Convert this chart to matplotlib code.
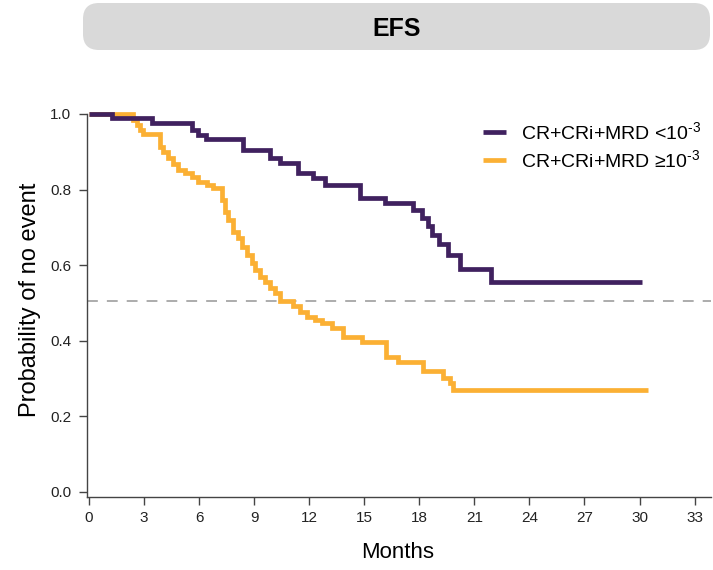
import matplotlib
matplotlib.use("Agg")
import matplotlib.pyplot as plt
from matplotlib.patches import FancyBboxPatch

plt.rcParams["font.family"] = ["Liberation Sans", "DejaVu Sans"]
plt.rcParams["mathtext.fontset"] = "custom"
plt.rcParams["mathtext.rm"] = "Liberation Sans"
plt.rcParams["mathtext.default"] = "regular"

# Kaplan-Meier steps (months, probability of no event)
low_mrd_times = [0, 1.24, 3.42, 5.6, 5.96, 6.38, 8.41, 9.86, 10.41, 11.39, 12.21,
                 12.86, 14.77, 16.13, 17.64, 18.13, 18.49, 18.68, 19.09, 19.58,
                 20.22, 21.89, 30.12]
low_mrd_surv = [1.0, 0.99, 0.975, 0.958, 0.944, 0.933, 0.905, 0.884, 0.869, 0.843,
                0.830, 0.812, 0.777, 0.764, 0.746, 0.725, 0.704, 0.680, 0.656,
                0.627, 0.591, 0.556, 0.556]

high_mrd_times = [0, 2.41, 2.6, 2.78, 2.96, 3.87, 4.05, 4.32, 4.59, 4.87, 5.23, 5.6,
                  5.96, 6.41, 6.78, 7.23, 7.41, 7.59, 7.86, 8.14, 8.32, 8.59, 8.86,
                  9.05, 9.32, 9.59, 9.86, 10.14, 10.41, 11.13, 11.5, 11.86, 12.32,
                  12.68, 13.23, 13.86, 14.86, 16.19, 16.86, 18.18, 19.27, 19.67,
                  19.85, 30.48]
high_mrd_surv = [1.0, 0.984, 0.971, 0.958, 0.946, 0.913, 0.900, 0.883, 0.867, 0.852,
                 0.843, 0.834, 0.821, 0.812, 0.803, 0.772, 0.741, 0.719, 0.688,
                 0.671, 0.649, 0.627, 0.605, 0.587, 0.569, 0.556, 0.539, 0.525,
                 0.505, 0.492, 0.477, 0.463, 0.455, 0.447, 0.433, 0.410, 0.396,
                 0.357, 0.344, 0.320, 0.300, 0.287, 0.269, 0.269]

labels = [r"CR+CRi+MRD <10$^{\text{-3}}$", "CR+CRi+MRD \u226510$^{\\text{-3}}$"]
median_line = 0.505
x_ticks = list(range(0, 34, 3))
y_ticks = [0.0, 0.2, 0.4, 0.6, 0.8, 1.0]

PURPLE = "#40215f"
ORANGE = "#fbb034"

fig = plt.figure(figsize=(7.13, 5.70), dpi=100)

# title banner
banner = FancyBboxPatch((0.83, 5.20), 6.27, 0.47,
                        boxstyle="round,pad=0,rounding_size=0.16",
                        transform=fig.dpi_scale_trans, facecolor="#d9d9d9",
                        edgecolor="none")
fig.patches.append(banner)
fig.text(0.556, 0.949, "EFS", ha="center", va="center", fontsize=18,
         fontweight="bold")

ax = fig.add_axes([0.1216, 0.1286, 0.875, 0.6714])
ax.set_xlim(-0.125, 33.87)
ax.set_ylim(-0.013, 1.0)

ax.axhline(median_line, color="#a6a6a6", lw=1.3, dashes=(6, 5), zorder=1)

ax.step(high_mrd_times, high_mrd_surv, where="post", color=ORANGE, lw=3.4,
        solid_joinstyle="miter", solid_capstyle="butt", clip_on=False,
        label=labels[1], zorder=2)
ax.step(low_mrd_times, low_mrd_surv, where="post", color=PURPLE, lw=3.4,
        solid_joinstyle="miter", solid_capstyle="butt", clip_on=False,
        label=labels[0], zorder=3)

for side in ["top", "right"]:
    ax.spines[side].set_visible(False)
for side in ["left", "bottom"]:
    ax.spines[side].set_color("#444444")
    ax.spines[side].set_linewidth(1.0)

ax.set_xticks(x_ticks)
ax.set_yticks(y_ticks)
ax.set_yticklabels([f"{v:.1f}" for v in y_ticks])
ax.tick_params(axis="both", direction="out", length=6, width=1.0,
               color="#444444", labelsize=11, labelcolor="#222222")
ax.tick_params(axis="x", pad=4)
ax.tick_params(axis="y", pad=5)

fig.text(0.557, 0.030, "Months", ha="center", va="center", fontsize=16)
fig.text(0.042, 0.474, "Probability of no event", ha="center", va="center",
         fontsize=17, rotation=90)

handles, labs = ax.get_legend_handles_labels()
leg = ax.legend(handles[::-1], labs[::-1], loc="upper left",
                bbox_to_anchor=(483 / 713, 1 - 121 / 570),
                bbox_transform=fig.transFigure, frameon=False, fontsize=14,
                handlelength=1.2, handletextpad=0.75, labelspacing=0.3,
                borderpad=0, borderaxespad=0)

fig.savefig("out.png", dpi=100)
